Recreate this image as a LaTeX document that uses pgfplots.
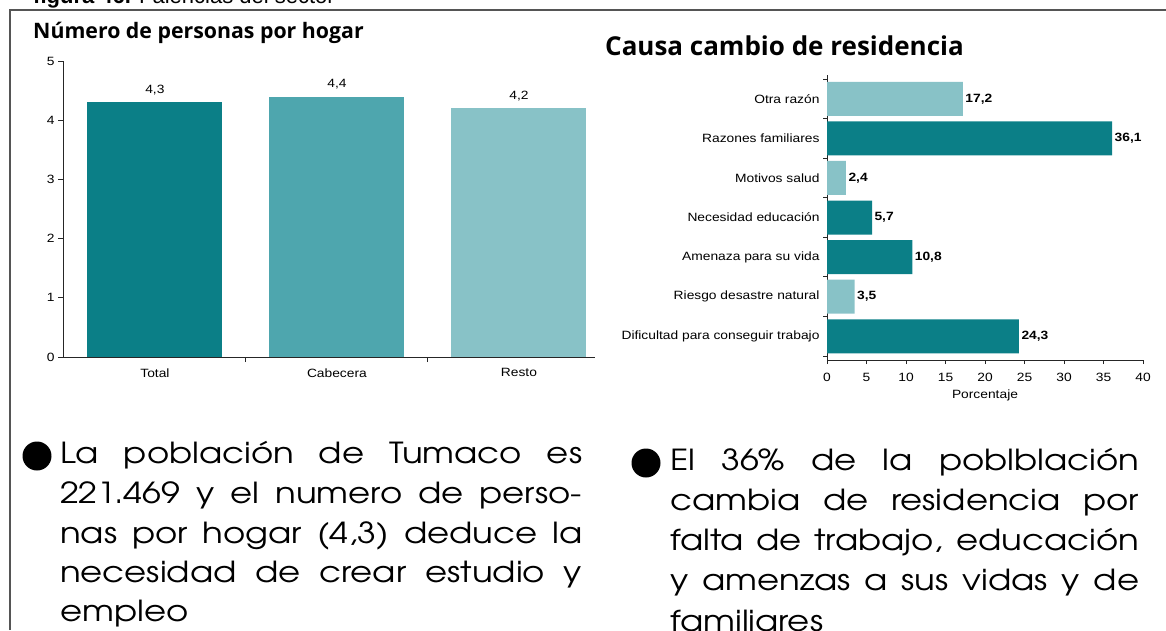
\documentclass[border=0pt]{standalone}
\usepackage{fontspec}
\setmainfont{Liberation Sans}
\newfontfamily\chartfont[FakeStretch=1.15]{Liberation Sans}
\newfontfamily\titlefont{Open Sans}
\newfontfamily\gothic[FakeStretch=1.17]{TeX Gyre Adventor}
\usepackage{pgfplots}
\pgfplotsset{compat=1.18}

\definecolor{tealD}{HTML}{0B7F87}
\definecolor{tealM}{HTML}{4EA6AE}
\definecolor{tealL}{HTML}{88C2C7}
\definecolor{framegray}{HTML}{555555}

\newcommand{\fs}[1]{\fontsize{#1}{#1}\selectfont}

\begin{document}
\begin{tikzpicture}
\useasboundingbox (0,0) rectangle (1166pt,-630pt);
\clip (0,0) rectangle (1166pt,-630pt);

% cut-off heading above the frame
\node[anchor=base west, inner sep=0pt, font=\fs{22}] at (33pt,-3pt)
  {\bfseries figura 46. \mdseries Falencias del sector};

% frame
\draw[framegray, line width=2pt] (10pt,-630pt) -- (10pt,-10pt) -- (1166pt,-10pt);

% left chart
\node[anchor=base west, inner sep=0pt, font=\titlefont\bfseries\fs{21.3}] at (33pt,-38pt)
  {Número de personas por hogar};
\begin{axis}[
  at={(63pt,-357pt)}, anchor=south west,
  scale only axis, width=532pt, height=296pt,
  clip=false,
  ybar, bar width=135pt, bar shift=0pt,
  xmin=-0.505, xmax=2.418, ymin=0, ymax=5,
  axis x line*=bottom, axis y line*=left,
  axis line style={black!85, line width=0.9pt},
  xtick={0,1,2}, xticklabels={Total,Cabecera,Resto},
  minor xtick={0.5,1.5},
  major x tick style={draw=none},
  ytick={0,1,2,3,4,5},
  tick style={black!85, line width=0.9pt},
  major tick length=5pt, minor tick length=5pt,
  tick align=outside,
  /pgf/number format/assume math mode=true,
  ticklabel style={font=\chartfont\fs{12}},
  xticklabel style={yshift=-3pt},
  nodes near coords={\pgfmathprintnumber[fixed,fixed zerofill,precision=1,use comma]{\pgfplotspointmeta}},
  every node near coord/.append style={font=\chartfont\fs{12}, black, yshift=4pt},
]
\addplot[fill=tealD, draw=none] coordinates {(0,4.3)};
\addplot[fill=tealM, draw=none] coordinates {(1,4.4)};
\addplot[fill=tealL, draw=none] coordinates {(2,4.2)};
\end{axis}

% right chart
\node[anchor=base west, inner sep=0pt, font=\titlefont\bfseries\fs{26}] at (605pt,-55pt)
  {Causa cambio de residencia};
\begin{axis}[
  at={(827pt,-360pt)}, anchor=south west,
  scale only axis, width=316pt, height=285pt,
  clip=false,
  xbar, bar width=34pt, bar shift=0pt,
  xmin=0, xmax=40, ymin=-0.6, ymax=6.6,
  axis x line*=bottom, axis y line*=left,
  axis line style={black!85, line width=0.9pt},
  xtick={0,5,...,40},
  ytick={0,...,6},
  yticklabels={Dificultad para conseguir trabajo, Riesgo desastre natural,
    Amenaza para su vida, Necesidad educación, Motivos salud,
    Razones familiares, Otra razón},
  minor ytick={-0.5,0.5,...,6.5},
  major y tick style={draw=none},
  tick style={black!85, line width=0.9pt},
  major tick length=4pt, minor tick length=4pt,
  tick align=outside,
  /pgf/number format/assume math mode=true,
  ticklabel style={font=\chartfont\fs{12}},
  xticklabel style={yshift=-6pt},
  xlabel={Porcentaje},
  xlabel style={font=\chartfont\fs{12}, yshift=-1pt},
  nodes near coords={\pgfmathprintnumber[fixed,fixed zerofill,precision=1,use comma]{\pgfplotspointmeta}},
  every node near coord/.append style={font=\chartfont\bfseries\fs{12}, black, xshift=-1pt},
]
\addplot[fill=tealD, draw=none] coordinates {(24.3,0) (10.8,2) (5.7,3) (36.1,5)};
\addplot[fill=tealL, draw=none] coordinates {(3.5,1) (2.4,4) (17.2,6)};
\end{axis}

% bullet texts
\fill (37pt,-456pt) circle (14.5pt);
\begin{scope}[every node/.style={anchor=base west, inner sep=0pt, font=\gothic\fs{29}}]
\node at (60pt,-463pt) {\makebox[522pt][s]{La población de Tumaco es}};
\node at (60pt,-503pt) {\makebox[522pt][s]{221.469 y el numero de perso-}};
\node at (60pt,-543pt) {\makebox[522pt][s]{nas por hogar (4,3) deduce la}};
\node at (60pt,-582pt) {\makebox[522pt][s]{necesidad de crear estudio y}};
\node at (60pt,-621pt) {empleo};
\end{scope}

\fill (646pt,-463pt) circle (14.5pt);
\begin{scope}[every node/.style={anchor=base west, inner sep=0pt, font=\gothic\fs{29}}]
\node at (670pt,-470pt) {\makebox[469pt][s]{El 36\% de la poblblación}};
\node at (670pt,-510pt) {\makebox[469pt][s]{cambia de residencia por}};
\node at (670pt,-550pt) {\makebox[469pt][s]{falta de trabajo, educación}};
\node at (670pt,-590pt) {\makebox[469pt][s]{y amenzas a sus vidas y de}};
\node at (670pt,-631pt) {familiares};
\end{scope}
\end{tikzpicture}
\end{document}
